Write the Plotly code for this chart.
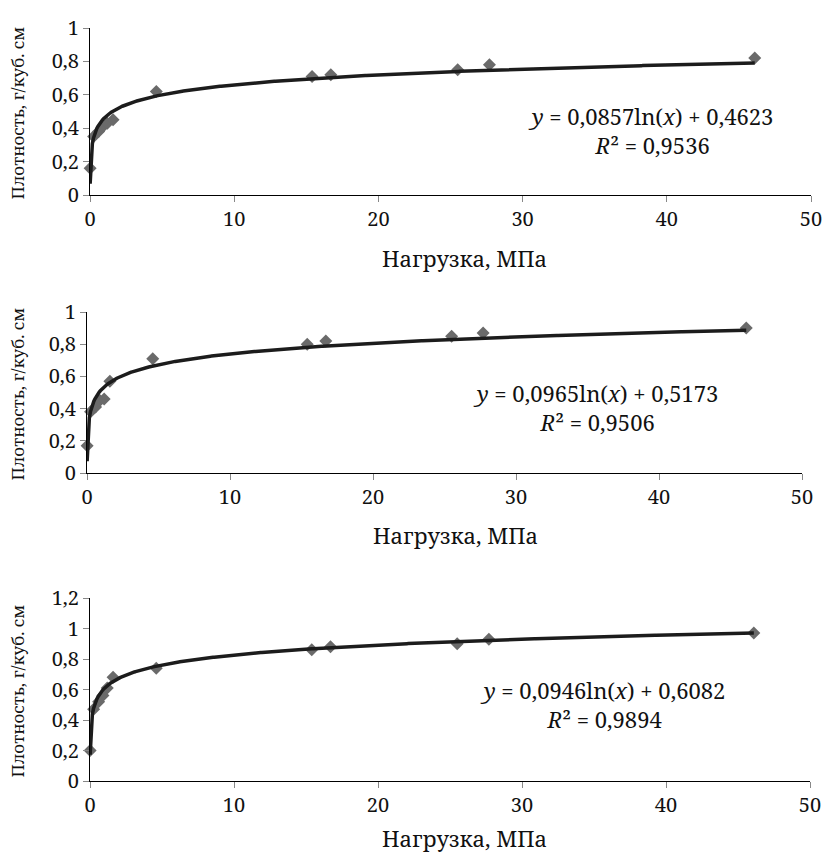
import numpy as np
import plotly.graph_objects as go

# ---- data ----
load_mpa = [0.01, 0.25, 0.6, 0.9, 1.2, 1.6, 4.6, 15.4, 16.7, 25.5, 27.7, 46.1]
density_1 = [0.16, 0.35, 0.38, 0.41, 0.43, 0.45, 0.62, 0.71, 0.72, 0.75, 0.78, 0.82]
density_2 = [0.17, 0.38, 0.41, 0.45, 0.46, 0.57, 0.71, 0.80, 0.82, 0.85, 0.87, 0.90]
density_3 = [0.20, 0.47, 0.52, 0.56, 0.61, 0.68, 0.74, 0.86, 0.88, 0.90, 0.93, 0.97]

fit_a = [0.0857, 0.0965, 0.0946]
fit_b = [0.4623, 0.5173, 0.6082]
fit_r2 = ["0,9536", "0,9506", "0,9894"]
fit_eq = ["0,0857", "0,0965", "0,0946"]
fit_c = ["0,4623", "0,5173", "0,6082"]

x_ticks = [0, 10, 20, 30, 40, 50]
y_max = [1.0, 1.0, 1.2]

x_title = "Нагрузка, МПа"
y_title = "Плотность, г/куб. см"

W, H = 824, 853
FONT = "Noto Serif, DejaVu Serif, serif"

# plot-area pixel boxes (left, right, top, bottom)
boxes = [(90, 811, 28, 195), (87, 802, 312, 473), (90, 810, 598, 781)]
xtitle_pos = [(464, 258), (455, 535), (464, 838)]
eq_pos = [(650, 131), (595, 407), (602, 704)]

def px(x):
    return x / W

def py(y):
    return 1 - y / H

fig = go.Figure()
series = [density_1, density_2, density_3]
annotations = []
layout_axes = {}

for i, dens in enumerate(series):
    n = i + 1
    xa = "x" if n == 1 else f"x{n}"
    ya = "y" if n == 1 else f"y{n}"
    xr = np.linspace(min(load_mpa), max(load_mpa), 600)
    yr = fit_a[i] * np.log(xr) + fit_b[i]
    fig.add_trace(go.Scatter(
        x=load_mpa, y=dens, mode="markers", xaxis=xa, yaxis=ya,
        marker=dict(symbol="diamond", size=10, color="#6a6a6a"),
        cliponaxis=False, showlegend=False))
    fig.add_trace(go.Scatter(
        x=xr, y=yr, mode="lines", xaxis=xa, yaxis=ya,
        line=dict(color="#1c1c1c", width=3.5),
        cliponaxis=False, showlegend=False))

    l, r, t, b = boxes[i]
    xkey = "xaxis" if n == 1 else f"xaxis{n}"
    ykey = "yaxis" if n == 1 else f"yaxis{n}"
    tickfont = dict(family=FONT, size=20, color="#111")
    layout_axes[xkey] = dict(
        domain=[px(l), px(r)], anchor=ya, range=[0, 50], automargin=False,
        tickvals=x_ticks, showline=True, linecolor="#000", linewidth=1,
        ticks="outside", ticklen=6, tickcolor="#888", showgrid=False,
        zeroline=False, tickfont=tickfont)
    layout_axes[ykey] = dict(
        domain=[py(b), py(t)], anchor=xa, range=[0, y_max[i]], dtick=0.2,
        automargin=False, showline=True, linecolor="#000", linewidth=1,
        ticks="outside", ticklen=6, tickcolor="#888", showgrid=False,
        zeroline=False, tickfont=tickfont)

    common = dict(xref="paper", yref="paper", showarrow=False,
                  xanchor="center", yanchor="middle")
    tx, ty = xtitle_pos[i]
    annotations.append(dict(
        x=px(tx), y=py(ty), text=x_title,
        font=dict(family=FONT, size=22, color="#111"), **common))
    annotations.append(dict(
        x=px(17), y=py((t + b) / 2 + 2), text=y_title, textangle=-90,
        font=dict(family=FONT, size=17, color="#111"), **common))
    ex, ey = eq_pos[i]
    annotations.append(dict(
        x=px(ex), y=py(ey), align="center",
        text=(f"<i>y</i> = {fit_eq[i]}ln(<i>x</i>) + {fit_c[i]}"
              f"<br><i>R</i>² = {fit_r2[i]}"),
        font=dict(family=FONT, size=22, color="#111"), **common))

fig.update_layout(
    width=W, height=H, margin=dict(l=0, r=0, t=0, b=0, autoexpand=False),
    paper_bgcolor="white", plot_bgcolor="white",
    font=dict(family=FONT),
    separators=", ", annotations=annotations, showlegend=False,
    **layout_axes)

fig.write_html("out.html", config={"displayModeBar": False},
               post_script="document.body.style.margin='0';")
